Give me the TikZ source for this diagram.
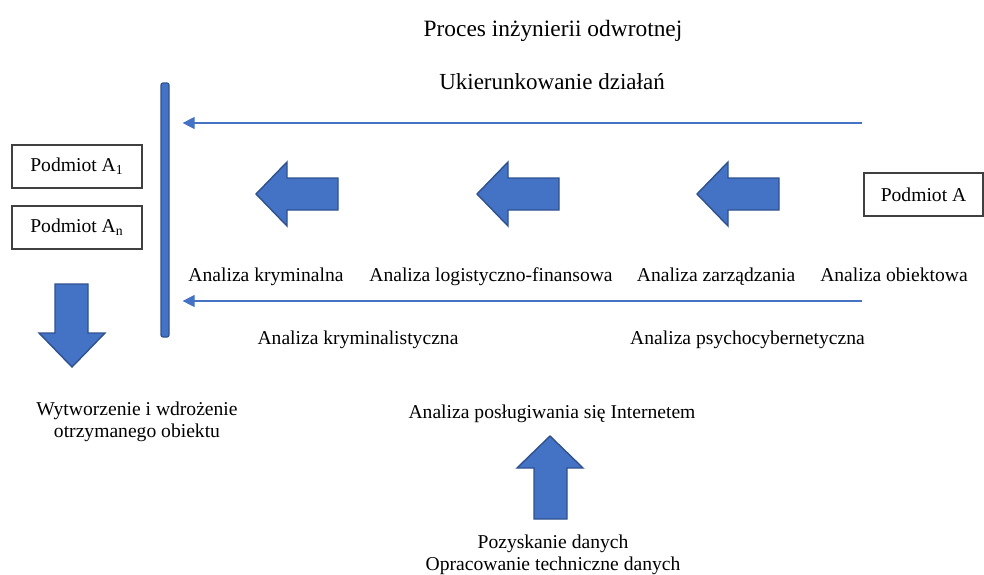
\documentclass[tikz,border=0pt]{standalone}
\usepackage{fontspec}
\setmainfont{Liberation Serif}
\usetikzlibrary{arrows.meta}
\definecolor{wordblue}{HTML}{4472C4}
\definecolor{wordedge}{HTML}{2F528F}
\tikzset{
  blok/.style={fill=wordblue,draw=wordedge,line width=0.7pt,line join=miter},
  podmiot/.style={draw=black!75,line width=0.6pt,minimum height=21.5pt,inner sep=0pt},
  kierunek/.style={-{Triangle[length=6pt,width=6pt]},wordblue,line width=0.6pt,shorten >=6.5pt},
  opis/.style={anchor=base,inner sep=0pt}
}
\begin{document}
\begin{tikzpicture}[x=0.5pt,y=-0.5pt,font=\fontsize{9.8}{11.3}\selectfont]
  \useasboundingbox (0,0) rectangle (984,574);
  \node[opis,font=\fontsize{11.7}{14}\selectfont] (tytul) at (553,36) {Proces inżynierii odwrotnej};
  \node[opis,font=\fontsize{11.5}{14}\selectfont] (kier) at (552,89) {Ukierunkowanie działań};
  \node[fill=wordblue,draw=wordedge,line width=0.6pt,rounded corners=1pt,minimum width=4pt,minimum height=127pt,inner sep=0pt] (pion) at (165,210) {};
  \node[podmiot,minimum width=65pt] (pa1) at (77,166.5) {Podmiot A\textsubscript{1}};
  \node[podmiot,minimum width=65pt] (pan) at (77,227.5) {Podmiot A\textsubscript{n}};
  \node[podmiot,minimum width=59.5pt] (pa) at (923.5,194.5) {Podmiot A};
  \coordinate (g1) at (862,123);
  \coordinate (g2) at (862,301);
  \draw[kierunek] (g1) -- (pion.east |- g1);
  \draw[kierunek] (g2) -- (pion.east |- g2);
  \foreach \t in {256,477,697}{
    \draw[blok] (\t,194) -- (\t+31,162) -- (\t+31,178) -- (\t+82,178) -- (\t+82,210) -- (\t+31,210) -- (\t+31,226) -- cycle;
  }
  \draw[blok] (72,367) -- (39,333) -- (55,333) -- (55,284) -- (88,284) -- (88,333) -- (105,333) -- cycle;
  \draw[blok] (550,436) -- (583,468) -- (567,468) -- (567,519) -- (534,519) -- (534,468) -- (517,468) -- cycle;
  \node[opis] (akr) at (266,281) {Analiza kryminalna};
  \node[opis] (alf) at (491,281) {Analiza logistyczno-finansowa};
  \node[opis] (azr) at (716,281) {Analiza zarządzania};
  \node[opis] (aob) at (894,281) {Analiza obiektowa};
  \node[opis] (akt) at (358,344) {Analiza kryminalistyczna};
  \node[opis] (aps) at (747.5,344) {Analiza psychocybernetyczna};
  \node[opis] (apo) at (552,418) {Analiza posługiwania się Internetem};
  \node[align=center,inner sep=0pt] (wytw) at (137,422) {Wytworzenie i wdrożenie\\otrzymanego obiektu};
  \node[align=center,inner sep=0pt] (pozy) at (553,555) {Pozyskanie danych\\Opracowanie techniczne danych};
\end{tikzpicture}
\end{document}
